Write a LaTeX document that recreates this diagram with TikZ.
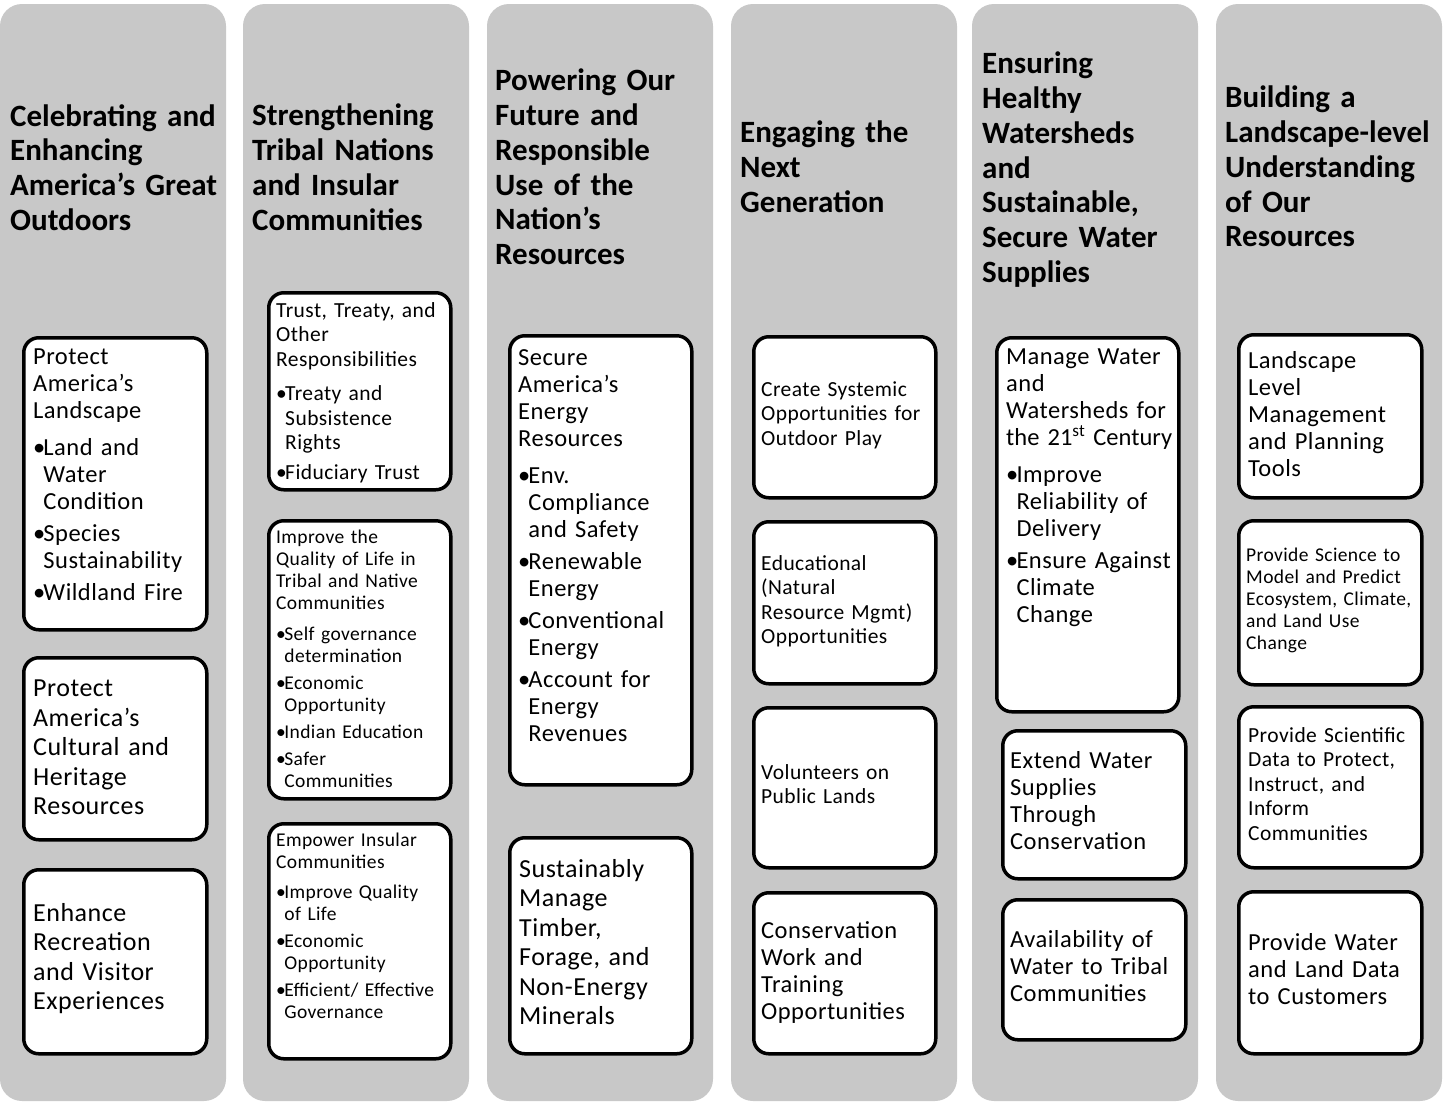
\documentclass[tikz,border=0pt]{standalone}
\usepackage{fontspec}
\setmainfont{Carlito}
\definecolor{pillar}{HTML}{C8C8C8}
\setlength{\parindent}{0pt}
\newcommand{\bul}[1][5pt]{\par\vspace{#1}\hangindent=0.42em\hangafter=1\makebox[0.42em][l]{\textbullet}}

\begin{document}
\begin{tikzpicture}[x=1pt,y=-1pt,
  card/.style={draw=black,fill=white,line width=3.5pt,rounded corners=15pt,anchor=north west,inner sep=0pt},
  goal/.style={anchor=north west,inner sep=0pt,text width=232pt,align=left,font=\bfseries\fontsize{31}{34.7}\selectfont},
  txt/.style={anchor=north west,inner sep=0pt,text width=190pt,align=left},
  fL/.style={txt,font=\addfontfeatures{LetterSpace=2}\fontsize{26}{29.5}\selectfont},
  fM/.style={txt,font=\addfontfeatures{LetterSpace=2}\fontsize{24.5}{27}\selectfont},
  fS/.style={txt,font=\addfontfeatures{LetterSpace=2}\fontsize{21.5}{24.5}\selectfont},
  fXS/.style={txt,font=\addfontfeatures{LetterSpace=2}\fontsize{19.5}{22}\selectfont}]
  \useasboundingbox (0,0) rectangle (1450,1101);
  \fill[white] (0,0) rectangle (1450,1101);
  \foreach \x in {0,243,487,731,972,1216}
    \fill[pillar,rounded corners=22pt] (\x,4) rectangle ++(226,1097);

  \node[card,minimum width=183pt,minimum height=292pt] (c1a) at (22,336) {};
  \node[card,minimum width=183pt,minimum height=182pt] (c1b) at (22,656) {};
  \node[card,minimum width=183pt,minimum height=184pt] (c1c) at (22,868) {};
  \node[card,minimum width=182pt,minimum height=197pt] (c2a) at (267,291) {};
  \node[card,minimum width=182pt,minimum height=278pt] (c2b) at (267,519) {};
  \node[card,minimum width=182pt,minimum height=235pt] (c2c) at (267,822) {};
  \node[card,minimum width=182pt,minimum height=449pt] (c3a) at (508,334) {};
  \node[card,minimum width=182pt,minimum height=216pt] (c3b) at (508,836) {};
  \node[card,minimum width=182pt,minimum height=161pt] (c4a) at (752,335) {};
  \node[card,minimum width=182pt,minimum height=162pt] (c4b) at (752,520) {};
  \node[card,minimum width=182pt,minimum height=160pt] (c4c) at (752,706) {};
  \node[card,minimum width=182pt,minimum height=161pt] (c4d) at (752,891) {};
  \node[card,minimum width=182pt,minimum height=374pt] (c5a) at (995,336) {};
  \node[card,minimum width=183pt,minimum height=148pt] (c5b) at (1001,729) {};
  \node[card,minimum width=183pt,minimum height=140pt] (c5c) at (1001,898) {};
  \node[card,minimum width=183pt,minimum height=163pt] (c6a) at (1237,333) {};
  \node[card,minimum width=183pt,minimum height=164pt] (c6b) at (1237,519) {};
  \node[card,minimum width=183pt,minimum height=161pt] (c6c) at (1237,705) {};
  \node[card,minimum width=183pt,minimum height=162pt] (c6d) at (1237,890) {};

  \node[goal] (g1) at (10,104) {Celebrating and\\Enhancing\\America’s Great\\Outdoors};
  \node[fM] (t1a) at (33,349) {Protect\\America’s\\Landscape\bul[10pt]Land and\newline Water\newline Condition\bul Species\newline Sustainability\bul Wildland Fire\par};
  \node[fL] (t1b) at (33,680) {Protect\\America’s\\Cultural and\\Heritage\\Resources};
  \node[fL] (t1c) at (33,903) {Enhance\\Recreation\\and Visitor\\Experiences};

  \node[goal] (g2) at (252,104) {Strengthening\\Tribal Nations\\and Insular\\Communities};
  \node[fS] (t2a) at (276,302) {Trust, Treaty, and\\Other\\Responsibilities\bul[10pt]Treaty and\newline Subsistence\newline Rights\bul Fiduciary Trust\par};
  \node[fXS] (t2b) at (276,530) {Improve the\\Quality of Life in\\Tribal and Native\\Communities\bul[9pt]Self governance\newline determination\bul Economic\newline Opportunity\bul Indian Education\bul Safer\newline Communities\par};
  \node[fXS] (t2c) at (276,833) {Empower Insular\\Communities\bul[8pt]Improve Quality\newline of Life\bul Economic\newline Opportunity\bul Efficient/ Effective\newline Governance\par};

  \node[goal] (g3) at (495,69) {Powering Our\\Future and\\Responsible\\Use of the\\Nation’s\\Resources};
  \node[fM] (t3a) at (518,349) {Secure\\America’s\\Energy\\Resources\bul[10pt]Env.\newline Compliance\newline and Safety\bul Renewable\newline Energy\bul Conventional\newline Energy\bul Account for\newline Energy\newline Revenues\par};
  \node[fL] (t3b) at (519,859) {Sustainably\\Manage\\Timber,\\Forage, and\\Non-Energy\\Minerals};

  \node[goal] (g4) at (740,121) {Engaging the\\Next\\Generation};
  \node[fS] (t4a) at (761,381) {Create Systemic\\Opportunities for\\Outdoor Play};
  \node[fS] (t4b) at (761,555) {Educational\\(Natural\\Resource Mgmt)\\Opportunities};
  \node[fS] (t4c) at (761,764) {Volunteers on\\Public Lands};
  \node[fM] (t4d) at (761,921) {Conservation\\Work and\\Training\\Opportunities};

  \node[goal] (g5) at (982,52) {Ensuring\\Healthy\\Watersheds\\and\\Sustainable,\\Secure Water\\Supplies};
  \node[fM] (t5a) at (1006,349) {Manage Water\\and\\Watersheds for\\{\addfontfeatures{LetterSpace=0}the 21\textsuperscript{st} Century}\bul[10pt]Improve\newline Reliability of\newline Delivery\bul Ensure Against\newline Climate\newline Change\par};
  \node[fM] (t5b) at (1010,751) {Extend Water\\Supplies\\Through\\Conservation};
  \node[fM] (t5c) at (1010,930) {Availability of\\Water to Tribal\\Communities};

  \node[goal] (g6) at (1225,86) {Building a\\Landscape-level\\Understanding\\of Our\\Resources};
  \node[fM] (t6a) at (1248,351) {Landscape\\Level\\Management\\and Planning\\Tools};
  \node[fXS] (t6b) at (1246,548) {Provide Science to\\Model and Predict\\Ecosystem, Climate,\\and Land Use\\Change};
  \node[fS] (t6c) at (1248,727) {Provide Scientific\\Data to Protect,\\Instruct, and\\Inform\\Communities};
  \node[fM] (t6d) at (1248,933) {Provide Water\\and Land Data\\to Customers};
\end{tikzpicture}
\end{document}
